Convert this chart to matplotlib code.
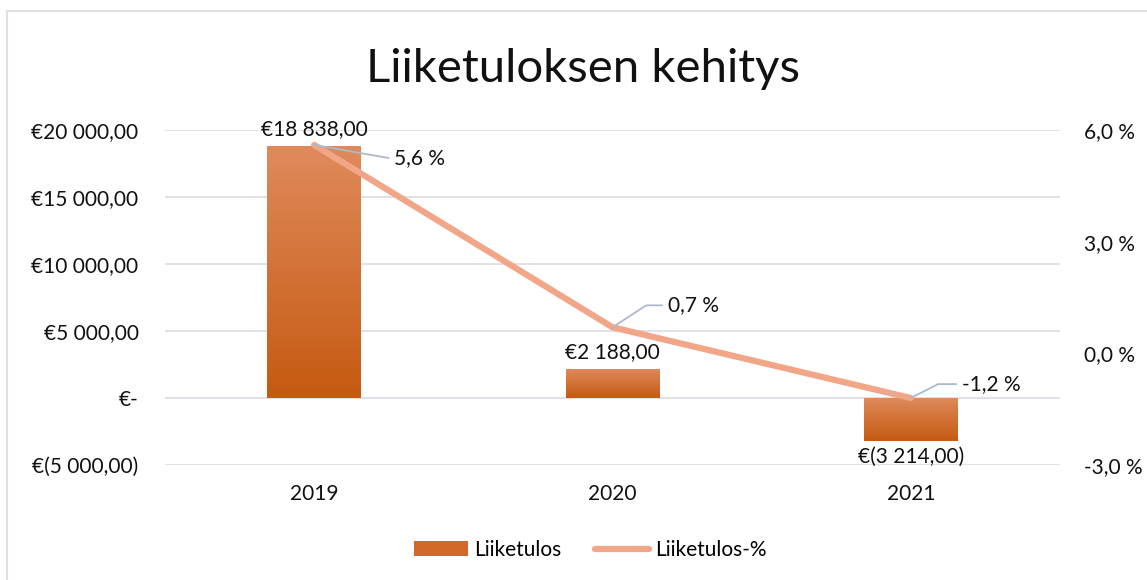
import matplotlib
matplotlib.use("Agg")
import matplotlib.pyplot as plt
import numpy as np
from matplotlib.lines import Line2D
from matplotlib.patches import Patch, Rectangle

years = ["2019", "2020", "2021"]
liiketulos = [18838.0, 2188.0, -3214.0]
liiketulos_pct = [5.6, 0.7, -1.2]
left_ticks = [-5000, 0, 5000, 10000, 15000, 20000]
right_ticks = [-3.0, 0.0, 3.0, 6.0]

BAR_TOP = "#e08a5c"
BAR_BOT = "#c55a11"
LINE_C = "#f2a688"
GRID_C = "#d9dce1"
LEADER_C = "#adb9ca"

plt.rcParams["font.family"] = ["Lato", "DejaVu Sans"]


def eur(v):
    if v == 0:
        return "€-"
    s = f"{abs(v):,.2f}".replace(",", " ").replace(".", ",")
    return f"€({s})" if v < 0 else f"€{s}"


def pct(v):
    return f"{v:.1f}".replace(".", ",") + " %"


fig = plt.figure(figsize=(11.47, 5.8), dpi=100)
fig.patches.append(Rectangle((7 / 1147, -0.1), 1.2, 1.1 - 11 / 580,
                             transform=fig.transFigure, fill=False,
                             edgecolor="#dde1e6", lw=1.5))
ax = fig.add_axes([165 / 1147, 1 - 465 / 580, 895 / 1147, 335 / 580])
ax2 = ax.twinx()

x = np.arange(len(years))
bars = ax.bar(x, liiketulos, width=0.315, color="none", zorder=2)
grad = np.linspace(0, 1, 256)[:, None]
cmap = matplotlib.colors.LinearSegmentedColormap.from_list("g", [BAR_TOP, BAR_BOT])
for b in bars:
    x0, y0 = b.get_x(), b.get_y()
    w, h = b.get_width(), b.get_height()
    lo, hi = min(y0, y0 + h), max(y0, y0 + h)
    im = ax.imshow(grad, cmap=cmap, aspect="auto", extent=[x0, x0 + w, lo, hi],
                   origin="upper", zorder=2)
    im.set_clip_path(b)

for xi, v in zip(x, liiketulos):
    if v >= 0:
        ax.annotate(eur(v), (xi, v), xytext=(0, 5), textcoords="offset points",
                    ha="center", va="bottom", fontsize=15, color="#111")
    else:
        ax.annotate(eur(v), (xi, v), xytext=(0, -4), textcoords="offset points",
                    ha="center", va="top", fontsize=15, color="#111")

ax.set_xlim(-0.5, 2.5)
ax.set_ylim(-5000, 20000)
ax.set_yticks(left_ticks)
ax.set_yticklabels([eur(t) for t in left_ticks])
ax.set_xticks(x)
ax.set_xticklabels(years)
ax.grid(axis="y", color=GRID_C, lw=1.2, zorder=0)
ax.set_axisbelow(True)
for s in ax.spines.values():
    s.set_visible(False)
for s in ax2.spines.values():
    s.set_visible(False)
ax.tick_params(length=0, labelsize=15, colors="#111", pad=19)
ax.tick_params(axis="x", pad=14)

ax2.plot(x, liiketulos_pct, color=LINE_C, lw=4.5, solid_capstyle="round", zorder=3)
ax2.set_ylim(-3.0, 6.0)
ax2.set_yticks(right_ticks)
ax2.set_yticklabels([pct(t) for t in right_ticks])
ax2.tick_params(length=0, labelsize=15, colors="#111", pad=17)

# leader-line label offsets (pt) and diagonal angle (deg)
offsets = [(57.6, -9.4, -10), (39.6, 15.8, 33), (36.7, 10.0, 27)]
for xi, v, (dx, dy, ang) in zip(x, liiketulos_pct, offsets):
    ax2.annotate(pct(v), (xi, v), xytext=(dx, dy), textcoords="offset points",
                 ha="left", va="center", fontsize=15, color="#111",
                 arrowprops=dict(arrowstyle="-", color=LEADER_C, lw=1.3,
                                 relpos=(0, 0.5), shrinkA=2, shrinkB=0,
                                 connectionstyle=f"angle,angleA=0,angleB={ang},rad=0"))

fig.text(583 / 1147, 1 - 69 / 580, "Liiketuloksen kehitys", ha="center", va="center",
         fontsize=34, fontweight="normal", color="#111")

handles = [Patch(facecolor="#d2682a"), Line2D([], [], color=LINE_C, lw=4.5,
                                              solid_capstyle="round")]
fig.legend(handles, ["Liiketulos", "Liiketulos-%"], loc="center",
           bbox_to_anchor=(590 / 1147, 1 - 550 / 580), ncol=2, frameon=False,
           fontsize=15, handlelength=2.6, handleheight=0.7, columnspacing=1.6,
           handletextpad=0.3)

fig.savefig("out.png", dpi=100)
